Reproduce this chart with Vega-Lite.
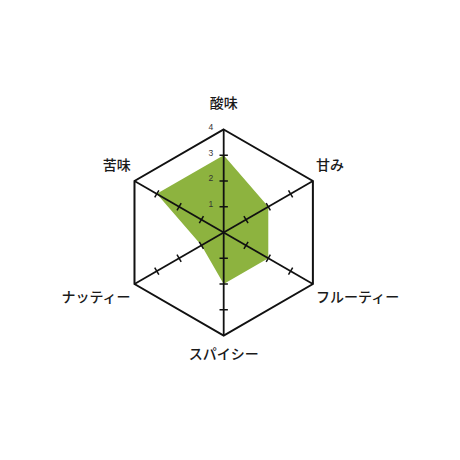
{
  "$schema": "https://vega.github.io/schema/vega-lite/v6.json",
  "width": 460, "height": 460,
  "autosize": {"type": "none"},
  "padding": 0,
  "background": "#ffffff",
  "config": {"view": {"stroke": null}},
  "datasets": {
    "axes": [
      {"axis": "酸味", "k": 0, "score": 3, "ticks": [1, 2, 3]},
      {"axis": "甘み", "k": 1, "score": 2, "ticks": [1, 2, 3]},
      {"axis": "フルーティー", "k": 2, "score": 2, "ticks": [1, 2, 3]},
      {"axis": "スパイシー", "k": 3, "score": 2, "ticks": [1, 2, 3]},
      {"axis": "ナッティー", "k": 4, "score": 1, "ticks": [1, 2, 3]},
      {"axis": "苦味", "k": 5, "score": 3, "ticks": [1, 2, 3]}
    ],
    "levels": [{"level": 1}, {"level": 2}, {"level": 3}, {"level": 4}]
  },
  "data": {"name": "axes"},
  "transform": [
    {"calculate": "PI/2 - datum.k*PI/3", "as": "theta"},
    {"calculate": "4*cos(datum.theta)", "as": "ox"},
    {"calculate": "4*sin(datum.theta)", "as": "oy"},
    {"calculate": "datum.score*cos(datum.theta)", "as": "px"},
    {"calculate": "datum.score*sin(datum.theta)", "as": "py"},
    {"calculate": "0", "as": "zero"}
  ],
  "layer": [
    {
      "mark": {"type": "line", "interpolate": "linear-closed", "fill": "#8db33f", "strokeOpacity": 0},
      "encoding": {
        "x": {"field": "px", "type": "quantitative", "scale": {"domain": [-8.687, 9.177], "nice": false, "zero": false}, "axis": null},
        "y": {"field": "py", "type": "quantitative", "scale": {"domain": [-8.835, 9.029], "nice": false, "zero": false}, "axis": null},
        "order": {"field": "k"}
      }
    },
    {
      "mark": {"type": "line", "interpolate": "linear-closed", "color": "#111111", "strokeWidth": 2, "strokeJoin": "miter"},
      "encoding": {
        "x": {"field": "ox", "type": "quantitative"},
        "y": {"field": "oy", "type": "quantitative"},
        "order": {"field": "k"}
      }
    },
    {
      "mark": {"type": "rule", "color": "#111111", "strokeWidth": 1.8},
      "encoding": {
        "x": {"field": "zero", "type": "quantitative"},
        "y": {"field": "zero", "type": "quantitative"},
        "x2": {"field": "ox"},
        "y2": {"field": "oy"}
      }
    },
    {
      "transform": [
        {"flatten": ["ticks"]},
        {"calculate": "datum.ticks*cos(datum.theta)", "as": "tx"},
        {"calculate": "datum.ticks*sin(datum.theta)", "as": "ty"},
        {"calculate": "(datum.k*60) % 180", "as": "ta"}
      ],
      "mark": {"type": "point", "shape": "stroke", "filled": false, "color": "#111111", "strokeWidth": 1.5, "size": 70, "opacity": 1},
      "encoding": {
        "x": {"field": "tx", "type": "quantitative"},
        "y": {"field": "ty", "type": "quantitative"},
        "angle": {"field": "ta", "type": "quantitative", "scale": null}
      }
    },
    {
      "data": {"name": "levels"},
      "transform": [{"calculate": "-0.5", "as": "lx"}, {"calculate": "datum.level + 0.1", "as": "ly"}],
      "mark": {"type": "text", "fontSize": 8.5, "font": "Liberation Sans", "color": "#333333", "align": "center", "baseline": "middle"},
      "encoding": {
        "x": {"field": "lx", "type": "quantitative"},
        "y": {"field": "ly", "type": "quantitative"},
        "text": {"field": "level", "type": "quantitative"}
      }
    },
    {
      "transform": [
        {"filter": "datum.k == 0 || datum.k == 3"},
        {"calculate": "datum.k == 0 ? 4.99 : -4.76", "as": "ly"}
      ],
      "mark": {"type": "text", "fontSize": 14, "font": "Noto Sans CJK JP", "fontWeight": 500, "color": "#1a1a1a", "align": "center", "baseline": "middle"},
      "encoding": {
        "x": {"field": "zero", "type": "quantitative"},
        "y": {"field": "ly", "type": "quantitative"},
        "text": {"field": "axis"}
      }
    },
    {
      "transform": [
        {"filter": "datum.k == 1 || datum.k == 2"},
        {"calculate": "datum.ox + 0.12", "as": "lx"},
        {"calculate": "datum.oy + (datum.oy > 0 ? 0.6 : -0.56)", "as": "ly"}
      ],
      "mark": {"type": "text", "fontSize": 14, "font": "Noto Sans CJK JP", "fontWeight": 500, "color": "#1a1a1a", "align": "left", "baseline": "middle"},
      "encoding": {
        "x": {"field": "lx", "type": "quantitative"},
        "y": {"field": "ly", "type": "quantitative"},
        "text": {"field": "axis"}
      }
    },
    {
      "transform": [
        {"filter": "datum.k == 4 || datum.k == 5"},
        {"calculate": "datum.ox - 0.15", "as": "lx"},
        {"calculate": "datum.oy + (datum.oy > 0 ? 0.6 : -0.56)", "as": "ly"}
      ],
      "mark": {"type": "text", "fontSize": 14, "font": "Noto Sans CJK JP", "fontWeight": 500, "color": "#1a1a1a", "align": "right", "baseline": "middle"},
      "encoding": {
        "x": {"field": "lx", "type": "quantitative"},
        "y": {"field": "ly", "type": "quantitative"},
        "text": {"field": "axis"}
      }
    }
  ]
}
